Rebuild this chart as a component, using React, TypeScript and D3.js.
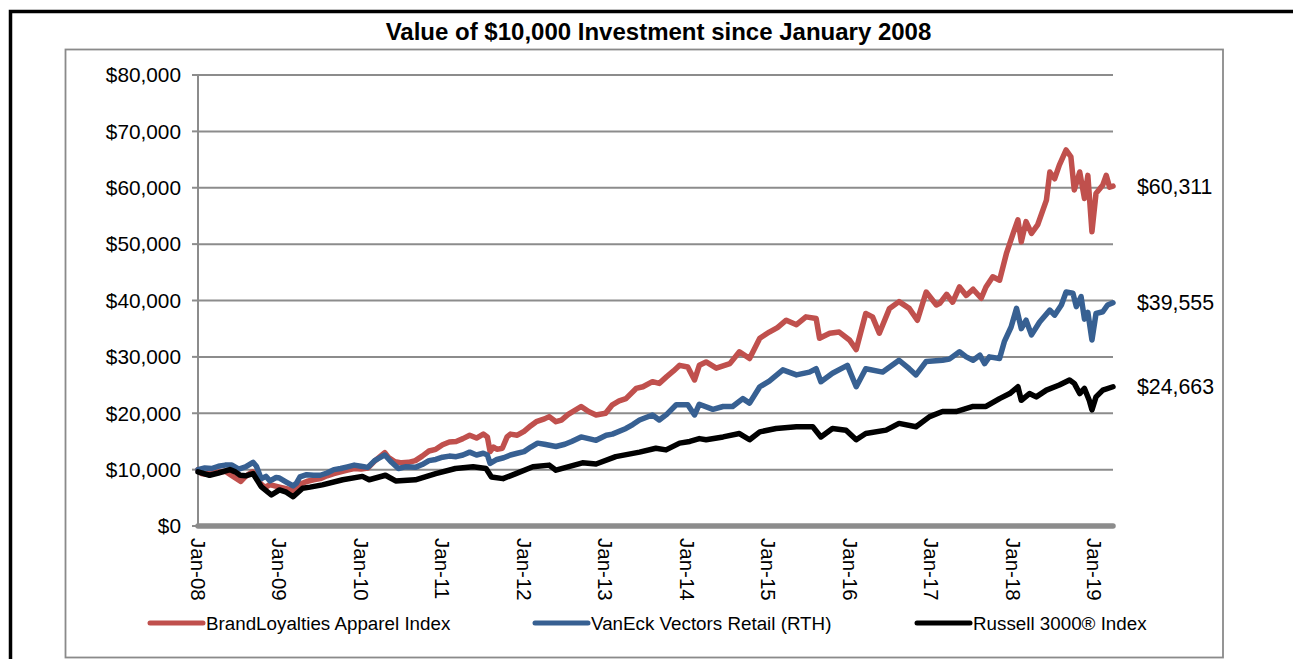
import React from "react";
import * as d3 from "d3";

// months since Jan 2008, value in $ thousands
const apparel: [number, number][] = [[0,10.0],[0.5,9.3],[1,9.2],[2,9.4],[3,9.6],[4,9.7],[5,8.9],[6.3,7.9],[7,8.8],[8,9.6],[8.6,9.3],[9,7.8],[9.5,7.2],[10,6.9],[10.5,7.3],[11,7.2],[12,6.9],[13,6.6],[14,6.3],[15,7.4],[16,7.9],[17,8.2],[18,8.4],[19,8.9],[20,9.3],[21,9.6],[22,9.9],[23,10.2],[24,10.1],[25,10.3],[26,11.5],[27.5,13.0],[28,12.2],[29,11.4],[30,11.2],[31,11.3],[32,11.6],[33,12.4],[34,13.3],[35,13.6],[36,14.4],[37,14.9],[38,15.0],[39,15.5],[40,16.1],[41,15.6],[42,16.3],[42.6,15.8],[43,13.2],[43.5,14.0],[44,13.6],[44.8,13.8],[45.5,15.8],[46,16.3],[47,16.1],[48,16.8],[49,17.8],[49.8,18.5],[51,19.0],[51.7,19.4],[52.7,18.5],[53.5,18.8],[54.5,19.8],[56.4,21.2],[57.5,20.3],[58.6,19.7],[60,20.0],[61,21.5],[62,22.2],[63,22.6],[64.5,24.4],[65.5,24.7],[66.9,25.6],[67.9,25.3],[69,26.5],[70,27.5],[70.9,28.5],[72.1,28.2],[73.1,25.9],[73.8,28.5],[74.8,29.1],[76.3,28.0],[77.3,28.4],[78.3,28.8],[79.7,30.9],[81.2,29.7],[82.7,33.3],[84.1,34.4],[85.3,35.2],[86.6,36.5],[88.1,35.7],[89.5,37.1],[91.0,36.8],[91.5,33.3],[93.0,34.2],[94.4,34.4],[95.9,33.0],[96.9,31.3],[98.3,37.7],[99.3,37.1],[100.3,34.2],[101.8,38.6],[103.2,39.8],[104.7,38.6],[105.9,36.5],[107.2,41.5],[108.7,39.2],[109.2,39.5],[110.2,41.1],[111.1,39.7],[112.1,42.4],[113.1,40.9],[114.1,42.0],[115.3,40.4],[116.0,42.4],[117.0,44.2],[118.0,43.6],[119.0,48.3],[120.0,51.9],[120.7,54.3],[121.2,50.4],[121.9,54.0],[122.7,51.9],[123.6,53.4],[124.9,57.8],[125.4,62.8],[126.1,61.6],[126.8,64.0],[127.8,66.7],[128.5,65.5],[129.0,59.6],[129.8,62.8],[130.5,58.1],[131.0,62.2],[131.6,52.2],[132.2,59.0],[133.2,60.5],[133.7,62.2],[134.2,60.1],[134.7,60.3]];

const retail: [number, number][] = [[0,10.0],[1,10.3],[2,10.2],[3,10.6],[4,10.8],[5,10.8],[6,10.1],[7,10.5],[8.1,11.3],[8.6,10.6],[9.3,8.4],[10,8.8],[10.6,8.0],[11.5,8.6],[12,8.5],[13,7.8],[14,7.1],[14.5,7.6],[15,8.7],[16,9.1],[17,9.0],[18,9.0],[19,9.4],[20,10.0],[21,10.2],[22,10.5],[23,10.8],[24,10.6],[25,10.4],[26,11.6],[27.5,12.6],[28.5,11.3],[29.5,10.2],[30.5,10.5],[32,10.4],[33,10.9],[34,11.6],[35,11.8],[36,12.2],[37,12.4],[38,12.3],[39,12.6],[40,13.1],[41,12.6],[42,12.9],[42.6,12.6],[43,11.1],[44,11.8],[45,12.1],[46,12.6],[47,12.9],[48,13.2],[49,14.0],[50,14.7],[51,14.5],[52.7,14.1],[54,14.5],[55,15.0],[56.4,15.8],[58.6,15.2],[60.1,16.1],[61,16.3],[63,17.3],[64,18.0],[65,18.8],[66.9,19.7],[67.9,18.8],[69,19.8],[70.4,21.5],[72.1,21.5],[73.1,19.7],[73.8,21.6],[75.8,20.7],[77.3,21.2],[78.7,21.2],[80.2,22.6],[81.2,21.8],[82.7,24.7],[84.1,25.7],[86.1,27.7],[88.1,26.8],[90,27.3],[91.0,27.9],[91.7,25.6],[93.4,27.1],[95.6,28.5],[96.9,24.7],[98.3,27.9],[100.8,27.3],[103.2,29.4],[104.7,27.9],[105.7,26.8],[107.2,29.2],[109.6,29.4],[110.6,29.6],[112.1,30.9],[113.1,30.0],[114.1,29.4],[115.1,30.3],[115.8,28.8],[116.5,30.0],[118.0,29.7],[118.7,32.7],[119.7,35.3],[120.5,38.6],[121.2,35.0],[121.9,36.5],[122.7,33.9],[123.9,36.2],[125.4,38.3],[126.1,37.4],[127.1,39.2],[127.8,41.5],[128.8,41.3],[129.3,38.9],[130.0,40.7],[130.5,36.7],[131.0,37.9],[131.6,33.0],[132.2,37.7],[133.2,38.0],[133.9,39.2],[134.7,39.6]];

const russell: [number, number][] = [[0,9.6],[1.7,9.0],[3,9.4],[4.7,10.0],[5.5,9.6],[6.2,9.0],[7,8.9],[8.1,9.3],[9.3,7.0],[10.8,5.5],[12,6.4],[13,6.0],[14,5.2],[15.4,6.7],[16.5,6.9],[18.3,7.3],[21.3,8.2],[24.2,8.8],[25.2,8.2],[27.6,9.0],[29.1,8.0],[32,8.2],[35,9.3],[37.9,10.2],[40.5,10.5],[42.4,10.2],[43.2,8.7],[44.9,8.4],[46.8,9.3],[49.3,10.5],[51.7,10.8],[52.7,9.9],[56.6,11.2],[58.6,11.0],[61.5,12.3],[65.0,13.1],[67.4,13.8],[68.9,13.5],[70.9,14.7],[72.4,15.0],[73.8,15.5],[74.8,15.3],[77.3,15.8],[79.7,16.4],[81.2,15.3],[82.7,16.7],[85.1,17.3],[88.1,17.6],[90.5,17.6],[91.7,15.8],[93.4,17.3],[95.4,17.0],[96.9,15.3],[98.3,16.4],[101.3,17.0],[103.2,18.2],[105.7,17.6],[107.7,19.4],[109.6,20.3],[111.6,20.3],[114.1,21.2],[116.0,21.2],[118.0,22.6],[119.5,23.5],[120.7,24.7],[121.2,22.3],[122.4,23.5],[123.4,22.9],[124.9,24.1],[126.8,25.0],[128.3,25.9],[129.0,25.3],[129.8,23.5],[130.5,24.4],[131.2,22.3],[131.6,20.6],[132.2,22.9],[133.2,24.1],[134.7,24.7]];

const seriesNames = ["BrandLoyalties Apparel Index", "VanEck Vectors Retail (RTH)", "Russell 3000® Index"];
const seriesColors = ["#C0504D", "#376092", "#000000"];
const endLabels = ["$60,311", "$39,555", "$24,663"];
const yTicks = [0, 10, 20, 30, 40, 50, 60, 70, 80];
const xTickMonths = [0, 12, 24, 36, 48, 60, 72, 84, 96, 108, 120, 132];
const xTickLabels = ["Jan-08", "Jan-09", "Jan-10", "Jan-11", "Jan-12", "Jan-13", "Jan-14", "Jan-15", "Jan-16", "Jan-17", "Jan-18", "Jan-19"];
const title = "Value of $10,000 Investment since January 2008";

const FONT = "'Liberation Sans', Arial, sans-serif";

export default function App() {
  const allSeries = [apparel, retail, russell];
  const x = d3.scaleLinear().domain([0, 134.7]).range([198, 1113]);
  const y = d3.scaleLinear().domain([0, 80]).range([526, 75]);
  const line = d3
    .line<[number, number]>()
    .x((d) => x(d[0]))
    .y((d) => y(d[1]));
  const fmt = (v: number) => "$" + d3.format(",")(v * 1000);
  const legendX = [150, 535, 917];
  return (
    <svg
      width={1293}
      height={659}
      style={{ position: "absolute", left: 0, top: 0, background: "#fff" }}
      fontFamily={FONT}
    >
      <rect x={0} y={0} width={1293} height={659} fill="#fff" />
      <rect x={10.5} y={11.5} width={1400} height={800} fill="none" stroke="#000" strokeWidth={3.5} />
      <rect x={65.5} y={49.5} width={1157.5} height={608} fill="none" stroke="#8a8a8a" strokeWidth={1.8} />
      <text x={658.5} y={40} textAnchor="middle" fontSize={24} fontWeight="bold" fill="#000">
        {title}
      </text>
      {yTicks.map((t) => (
        <g key={t}>
          {t > 0 && (
            <line x1={x(0)} x2={x(134.7)} y1={y(t)} y2={y(t)} stroke="#8c8c8c" strokeWidth={2} />
          )}
          <line x1={192} x2={x(0)} y1={y(t)} y2={y(t)} stroke="#8c8c8c" strokeWidth={2} />
          <text x={181} y={y(t)} dy="0.35em" textAnchor="end" fontSize={20.8} fill="#000">
            {fmt(t)}
          </text>
        </g>
      ))}
      <line x1={x(0)} x2={x(0)} y1={y(80)} y2={y(0)} stroke="#8c8c8c" strokeWidth={2} />
      <line
        x1={x(0)}
        x2={x(134.7)}
        y1={y(0)}
        y2={y(0)}
        stroke="#8c8c8c"
        strokeWidth={5.5}
        strokeLinecap="round"
      />
      {xTickMonths.map((m, i) => (
        <text
          key={m}
          transform={`translate(${x(m)},538) rotate(90)`}
          dy="0.35em"
          textAnchor="start"
          fontSize={20.5}
          fill="#000"
        >
          {xTickLabels[i]}
        </text>
      ))}
      {allSeries.map((s, i) => (
        <path
          key={i}
          d={line(s) || ""}
          fill="none"
          stroke={seriesColors[i]}
          strokeWidth={5.5}
          strokeLinejoin="round"
          strokeLinecap="round"
        />
      ))}
      {allSeries.map((s, i) => {
        const last = s[s.length - 1];
        return (
          <text key={i} x={x(last[0]) + 24} y={y(last[1])} dy="0.35em" fontSize={21.3} fill="#000">
            {endLabels[i]}
          </text>
        );
      })}
      {seriesNames.map((n, i) => (
        <g key={n}>
          <line
            x1={legendX[i]}
            x2={legendX[i] + 53}
            y1={623}
            y2={623}
            stroke={seriesColors[i]}
            strokeWidth={5}
            strokeLinecap="round"
          />
          <text x={legendX[i] + 56} y={623} dy="0.35em" fontSize={18.8} fill="#000">
            {n}
          </text>
        </g>
      ))}
    </svg>
  );
}
